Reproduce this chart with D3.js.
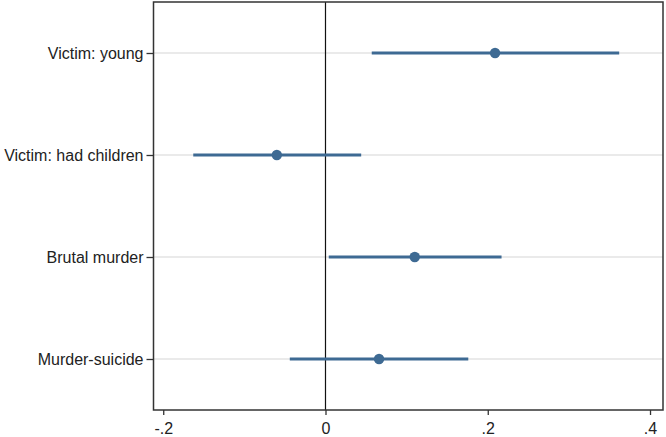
<!DOCTYPE html>
<html>
<head>
<meta charset="utf-8">
<script src="https://cdn.jsdelivr.net/npm/d3@7"></script>
<style>
  body { margin: 0; background: #fff; }
  text { font-family: "Liberation Sans", Arial, sans-serif; }
</style>
</head>
<body>
<svg width="666" height="437"></svg>
<script>
// coefficient estimates with confidence intervals
var labels = ["Victim: young", "Victim: had children", "Brutal murder", "Murder-suicide"];
var estimates = [0.209, -0.060, 0.110, 0.066];
var lower = [0.057, -0.163, 0.004, -0.044];
var upper = [0.362, 0.044, 0.217, 0.176];
var xTicks = [-0.2, 0, 0.2, 0.4];

var svg = d3.select("svg");
var plotLeft = 153.5, plotRight = 663, plotTop = 2, plotBottom = 410;

var x = d3.scaleLinear()
    .domain([-0.212, 0.416])
    .range([plotLeft, plotRight]);

var y = d3.scalePoint()
    .domain(labels)
    .range([plotTop, plotBottom])
    .padding(0.5);

var rows = labels.map(function(d, i) {
  return {label: d, est: estimates[i], lo: lower[i], hi: upper[i]};
});

// gridlines
svg.selectAll(".grid")
  .data(labels).enter().append("line")
    .attr("x1", plotLeft).attr("x2", plotRight)
    .attr("y1", function(d) { return y(d); })
    .attr("y2", function(d) { return y(d); })
    .attr("stroke", "#e3e3e3")
    .attr("stroke-width", 1.5);

// zero line
svg.append("line")
    .attr("x1", x(0)).attr("x2", x(0))
    .attr("y1", plotTop).attr("y2", plotBottom)
    .attr("stroke", "#111")
    .attr("stroke-width", 1.2);

// CI bars
svg.selectAll(".ci")
  .data(rows).enter().append("line")
    .attr("x1", function(d) { return x(d.lo); })
    .attr("x2", function(d) { return x(d.hi); })
    .attr("y1", function(d) { return y(d.label); })
    .attr("y2", function(d) { return y(d.label); })
    .attr("stroke", "#3e6a93")
    .attr("stroke-width", 3.2);

svg.selectAll(".pt")
  .data(rows).enter().append("circle")
    .attr("cx", function(d) { return x(d.est); })
    .attr("cy", function(d) { return y(d.label); })
    .attr("r", 5.2)
    .attr("fill", "#3e6a93");

// frame
svg.append("rect")
    .attr("x", plotLeft).attr("y", plotTop)
    .attr("width", plotRight - plotLeft).attr("height", plotBottom - plotTop)
    .attr("fill", "none")
    .attr("stroke", "#333")
    .attr("stroke-width", 1.5);

// x axis
var xa = svg.append("g")
    .attr("transform", "translate(0," + plotBottom + ")")
    .call(d3.axisBottom(x)
      .tickValues(xTicks)
      .tickSize(5)
      .tickPadding(8)
      .tickFormat(function(d) {
        if (d == 0) return "0";
        var s = Math.abs(d).toFixed(1).replace("0.", ".");
        return d < 0 ? "-" + s : s;
      }));
xa.select(".domain").remove();
xa.selectAll("line").attr("stroke", "#333").attr("stroke-width", 1.3);
xa.selectAll("text").attr("font-size", 16).attr("fill", "#222")
    .attr("font-family", "Liberation Sans, Arial, sans-serif");

// y axis
var ya = svg.append("g")
    .attr("transform", "translate(" + plotLeft + ",0)")
    .call(d3.axisLeft(y).tickSize(7).tickPadding(3));
ya.select(".domain").remove();
ya.selectAll("line").attr("stroke", "#333").attr("stroke-width", 1.3);
ya.selectAll("text").attr("font-size", 16).attr("fill", "#222")
    .attr("font-family", "Liberation Sans, Arial, sans-serif");
</script>
</body>
</html>
